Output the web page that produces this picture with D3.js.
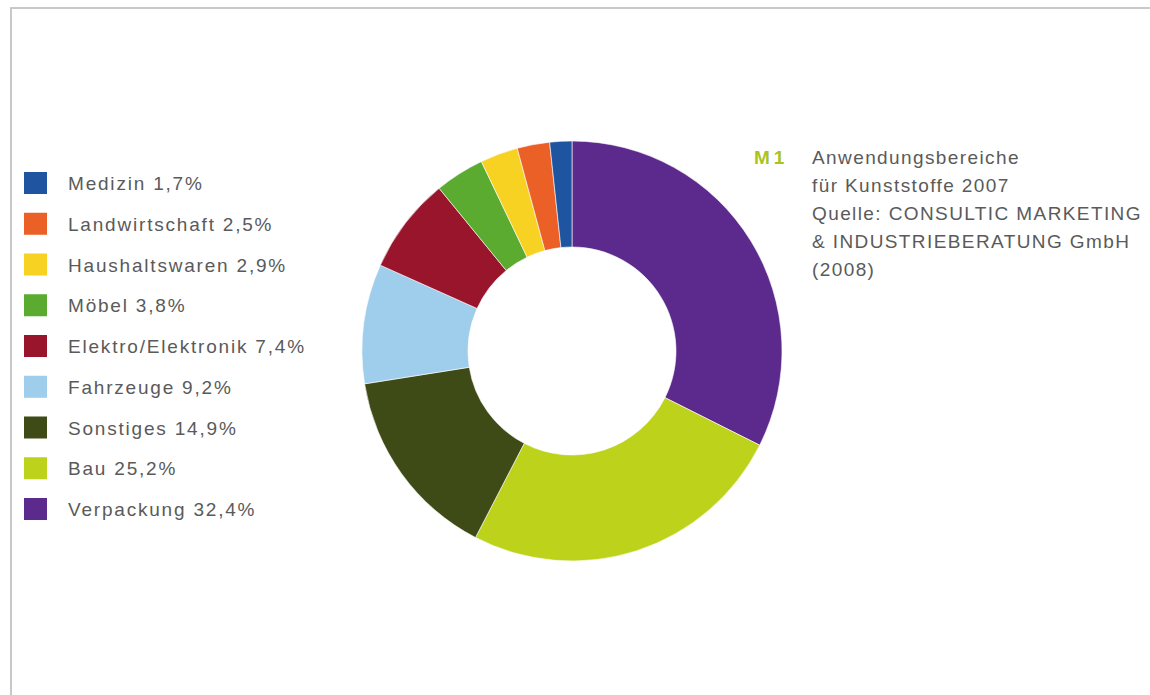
<!DOCTYPE html>
<html><head><meta charset="utf-8">
<script src="https://cdn.jsdelivr.net/npm/d3@7"></script>
<style>html,body{margin:0;padding:0;background:#fff;}svg{display:block;}</style>
</head><body>
<svg id="chart" width="1150" height="695"></svg>
<script>
const categories = ["Verpackung","Bau","Sonstiges","Fahrzeuge","Elektro/Elektronik","Möbel","Haushaltswaren","Landwirtschaft","Medizin"];
const values = [32.4,25.2,14.9,9.2,7.4,3.8,2.9,2.5,1.7];
const valueLabels = ["32,4%","25,2%","14,9%","9,2%","7,4%","3,8%","2,9%","2,5%","1,7%"];
const colors = ["#5b2a8c","#bcd21b","#3f4b17","#9fcdec","#99152c","#5aab2f","#f7d223","#eb6026","#1f55a0"];
const titleLines = ["Anwendungsbereiche","für Kunststoffe 2007","Quelle: CONSULTIC MARKETING","& INDUSTRIEBERATUNG GmbH","(2008)"];

const svg = d3.select("#chart");
const font = "'Liberation Sans',Arial,sans-serif";

// frame
svg.append("path").attr("d","M11,695 L11,8 L1150,8").attr("fill","none").attr("stroke","#c8c8c8").attr("stroke-width",2);

// donut
const cx = 572, cy = 351, rOuter = 210, rInner = 104;
const pie = d3.pie().sort(null).value(d => d);
const arc = d3.arc().innerRadius(rInner).outerRadius(rOuter);
const g = svg.append("g").attr("transform",`translate(${cx},${cy})`);
g.selectAll("path").data(pie(values)).join("path")
  .attr("d",arc).attr("fill",(d,i)=>colors[i])
  .attr("stroke","#fff").attr("stroke-width",0.6);

// legend (reverse order: smallest first)
const order = d3.range(categories.length).reverse();
const y = d3.scalePoint().domain(order).range([183,509]);
const lg = svg.append("g");
order.forEach(i => {
  const yy = y(i);
  lg.append("rect").attr("x",24).attr("y",yy-11).attr("width",23).attr("height",22).attr("fill",colors[i]);
  lg.append("text").attr("x",68).attr("y",yy+7).attr("font-family",font).attr("font-size",19)
    .attr("letter-spacing",1.8).attr("fill","#5a5a5a").text(categories[i]+" "+valueLabels[i]);
});

// title
svg.append("text").attr("x",754).attr("y",164).attr("font-family",font)
  .attr("font-weight","bold").attr("font-size",19).attr("letter-spacing",4).attr("fill","#a9c41f").text("M1");
titleLines.forEach((t,k)=>{
  svg.append("text").attr("x",812).attr("y",164+k*28).attr("font-family",font).attr("font-size",19)
    .attr("letter-spacing",1.4).attr("fill","#5a5a5a").text(t);
});
</script>
</body></html>
